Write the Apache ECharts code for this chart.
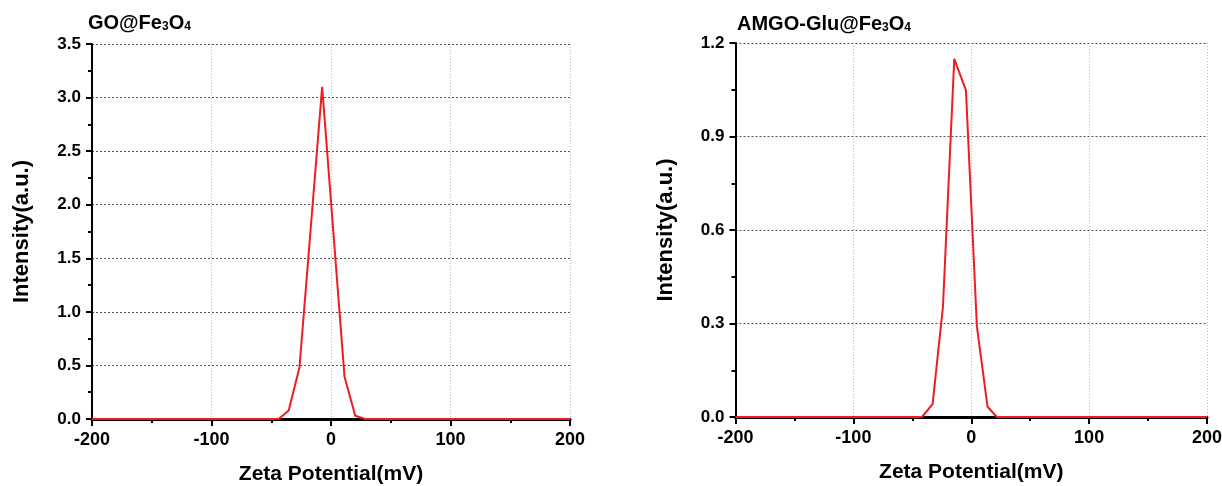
<!DOCTYPE html>
<html>
<head>
<meta charset="utf-8">
<script src="https://cdn.jsdelivr.net/npm/echarts@6/dist/echarts.min.js"></script>
<style>
  html, body { margin: 0; padding: 0; background: #fff; }
  #chart { width: 1222px; height: 486px; }
</style>
</head>
<body>
<div id="chart"></div>
<script>
// Zeta potential distributions (mV vs. intensity, a.u.)
const goPotential   = [-200, -43.8, -35.4, -26.4, -16.9, -7.4, 2.0, 11.3, 20.3, 28.5, 200];
const goIntensity   = [0, 0, 0.08, 0.48, 1.79, 3.10, 1.74, 0.395, 0.03, 0, 0];

const amgoPotential = [-200, -41.8, -32.8, -24.0, -14.4, -4.5, 4.8, 13.8, 21.8, 200];
const amgoIntensity = [0, 0, 0.041, 0.354, 1.149, 1.048, 0.29, 0.033, 0, 0];

const xTicks = { min: -200, max: 200, interval: 100 };
const goTicks = { min: 0, max: 3.5, interval: 0.5 };
const amgoTicks = { min: 0, max: 1.2, interval: 0.3 };

const FONT = '"Liberation Sans", Arial, sans-serif';
const RED = '#ee1d23';

const pairs = (xs, ys) => xs.map((x, i) => [x, ys[i]]);

function xAxis(gridIndex) {
  return {
    type: 'value', gridIndex,
    min: xTicks.min, max: xTicks.max, interval: xTicks.interval,
    name: 'Zeta Potential(mV)', nameLocation: 'middle', nameGap: 45,
    nameTextStyle: { fontFamily: FONT, fontWeight: 'bold', fontSize: 21, color: '#000' },
    axisLine: { onZero: false, lineStyle: { color: '#000', width: 3 } },
    axisTick: { length: 7, lineStyle: { color: '#000', width: 2 } },
    minorTick: { show: true, splitNumber: 2, length: 4, lineStyle: { color: '#000', width: 2 } },
    axisLabel: { margin: 12, fontFamily: FONT, fontWeight: 'bold', fontSize: 18, color: '#000' },
    splitLine: { show: true, lineStyle: { color: '#b8b8b8', type: [1, 2], width: 1 } }
  };
}

function yAxis(gridIndex, ticks) {
  return {
    type: 'value', gridIndex,
    min: ticks.min, max: ticks.max, interval: ticks.interval,
    name: 'Intensity(a.u.)', nameLocation: 'middle', nameGap: 59, nameRotate: 90,
    nameTextStyle: { fontFamily: FONT, fontWeight: 'bold', fontSize: 22, color: '#000' },
    axisLine: { show: true, onZero: false, lineStyle: { color: '#000', width: 2 } },
    axisTick: { show: true, length: 6, lineStyle: { color: '#000', width: 2 } },
    minorTick: { show: true, splitNumber: 2, length: 4, lineStyle: { color: '#000', width: 2 } },
    axisLabel: {
      margin: 11, fontFamily: FONT, fontWeight: 'bold', fontSize: 17, color: '#000',
      formatter: v => v.toFixed(1)
    },
    splitLine: { show: true, lineStyle: { color: '#555', type: [2, 2], width: 1 } }
  };
}

const titleRich = {
  a: { fontFamily: FONT, fontWeight: 'bold', fontSize: 20, color: '#000', lineHeight: 20 },
  s: { fontFamily: FONT, fontWeight: 'bold', fontSize: 12, color: '#000', lineHeight: 20, verticalAlign: 'bottom' }
};

const chart = echarts.init(document.getElementById('chart'), null, { renderer: 'canvas' });
chart.setOption({
  backgroundColor: '#fff',
  animation: false,
  title: [
    { left: 88, top: 13, padding: 0, text: '{a|GO@Fe}{s|3}{a|O}{s|4}', textStyle: { rich: titleRich } },
    { left: 737, top: 14, padding: 0, text: '{a|AMGO-Glu@Fe}{s|3}{a|O}{s|4}', textStyle: { rich: titleRich } }
  ],
  grid: [
    { left: 92, right: 652, top: 44, bottom: 67, outerBoundsMode: 'none', containLabel: false },
    { left: 735.5, right: 15, top: 43, bottom: 69, outerBoundsMode: 'none', containLabel: false }
  ],
  xAxis: [xAxis(0), xAxis(1)],
  yAxis: [yAxis(0, goTicks), yAxis(1, amgoTicks)],
  series: [
    {
      type: 'line', xAxisIndex: 0, yAxisIndex: 0,
      data: pairs(goPotential, goIntensity),
      symbol: 'none', lineStyle: { color: RED, width: 2 }, z: 5
    },
    {
      type: 'line', xAxisIndex: 1, yAxisIndex: 1,
      data: pairs(amgoPotential, amgoIntensity),
      symbol: 'none', lineStyle: { color: RED, width: 2 }, z: 5
    }
  ]
});
</script>
</body>
</html>
